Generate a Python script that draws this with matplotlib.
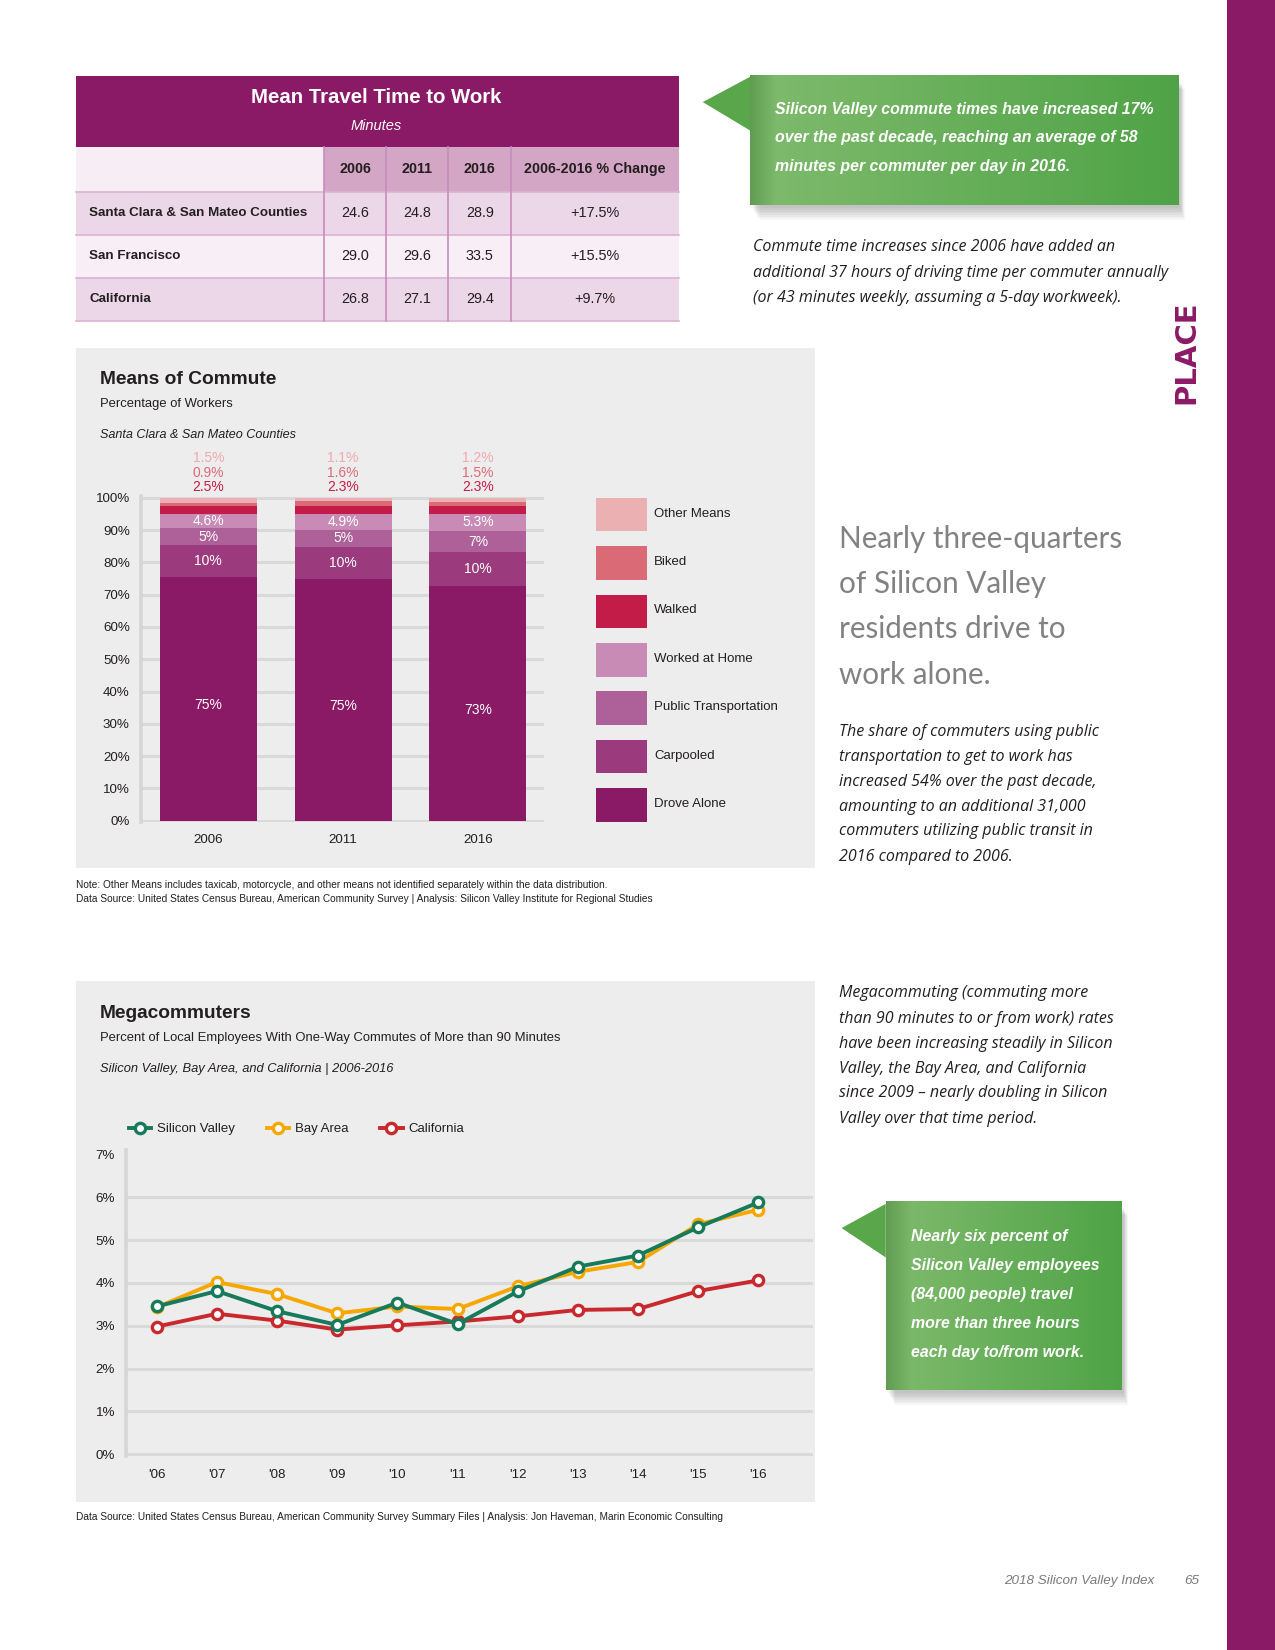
import matplotlib
matplotlib.use('Agg')
import matplotlib.pyplot as plt
import numpy as np
from matplotlib.patches import Rectangle, Polygon
from matplotlib.colors import LinearSegmentedColormap

# ---------------- DATA ----------------
table_title = "Mean Travel Time to Work"
table_columns = ["2006", "2011", "2016", "2006-2016 % Change"]
table_regions = ["Santa Clara & San Mateo Counties", "San Francisco", "California"]
travel_2006 = [24.6, 29.0, 26.8]
travel_2011 = [24.8, 29.6, 27.1]
travel_2016 = [28.9, 33.5, 29.4]
travel_change = ["+17.5%", "+15.5%", "+9.7%"]

commute_years = ["2006", "2011", "2016"]
commute_modes = ["Drove Alone", "Carpooled", "Public Transportation",
                 "Worked at Home", "Walked", "Biked", "Other Means"]
drove_alone = [75.4, 75.0, 72.8]
carpooled = [10.1, 9.9, 10.3]
public_transport = [5.0, 5.2, 6.6]
worked_home = [4.6, 4.9, 5.3]
walked = [2.5, 2.3, 2.3]
biked = [0.9, 1.6, 1.5]
other_means = [1.5, 1.1, 1.2]
commute_ticks = [0, 10, 20, 30, 40, 50, 60, 70, 80, 90, 100]

mega_years = [2006, 2007, 2008, 2009, 2010, 2011, 2012, 2013, 2014, 2015, 2016]
mega_labels = ["'06", "'07", "'08", "'09", "'10", "'11", "'12", "'13", "'14", "'15", "'16"]
silicon_valley = [3.45, 3.81, 3.34, 3.02, 3.54, 3.04, 3.80, 4.38, 4.64, 5.30, 5.88]
bay_area = [3.43, 4.02, 3.74, 3.29, 3.45, 3.39, 3.92, 4.26, 4.49, 5.37, 5.71]
california = [2.98, 3.28, 3.12, 2.91, 3.01, 3.10, 3.22, 3.37, 3.39, 3.81, 4.06]
mega_ticks = [0, 1, 2, 3, 4, 5, 6, 7]

# ---------------- FONTS ----------------
COND = ['Liberation Sans', 'DejaVu Sans']
ITAL = ['Open Sans', 'DejaVu Sans']
LIGHT = ['Lato', 'Liberation Sans', 'DejaVu Sans']
plt.rcParams['font.family'] = COND

PURPLE = '#8b1a66'
PANEL = '#ededed'
DARK = '#231f20'

fig = plt.figure(figsize=(12.75, 16.5), dpi=100)
W, H = 1212.0, 1568.0
bg = fig.add_axes([0, 0, 1, 1])
bg.set_xlim(0, W); bg.set_ylim(H, 0); bg.axis('off')


def rect(x0, y0, x1, y1, **kw):
    bg.add_patch(Rectangle((x0, y0), x1 - x0, y1 - y0, **kw))


def ax_rect(x0, y0, x1, y1):
    return [x0 / W, 1 - y1 / H, (x1 - x0) / W, (y1 - y0) / H]


def T(x, y, s, size, **kw):
    kw.setdefault('va', 'center')
    kw.setdefault('color', DARK)
    bg.text(x, y, s, fontsize=size, **kw)


# right purple strip
rect(1166, 0, W, H, color=PURPLE, lw=0)
T(1128, 335, 'PLACE', 21, rotation=90, ha='center', color=PURPLE,
  fontweight='bold', family=['DejaVu Sans'])

# ---------------- TABLE ----------------
rect(72, 72, 645, 140, color=PURPLE, lw=0)
T(358, 93, table_title, 14.7, ha='center', color='white', fontweight='bold')
T(358, 120, 'Minutes', 10.5, ha='center', color='white', style='italic')
col_edges = [72, 308, 367, 426, 486, 645]
row_edges = [140, 182, 223, 264, 305]
rect(72, 140, 308, 182, color='#f7edf4', lw=0)
rect(308, 140, 645, 182, color='#d4a6c6', lw=0)
row_colors = ['#ecd7e8', '#f8eef5', '#ecd7e8']
for i, c in enumerate(row_colors):
    rect(72, row_edges[i + 1], 645, row_edges[i + 2], color=c, lw=0)
for y in row_edges[1:]:
    bg.plot([72, 645], [y, y], color='#dcb2d3', lw=1.2)
for x in col_edges[1:-1]:
    bg.plot([x, x], [140, 305], color='#c98cbc', lw=1.2)
col_centers = [(col_edges[i] + col_edges[i + 1]) / 2 for i in range(1, 5)]
for cx, lab in zip(col_centers, table_columns):
    T(cx, 161, lab, 10.3, ha='center', fontweight='bold')
for i, reg in enumerate(table_regions):
    yc = (row_edges[i + 1] + row_edges[i + 2]) / 2
    T(85, yc, reg, 9.6, ha='left', fontweight='bold')
    vals = ["%.1f" % travel_2006[i], "%.1f" % travel_2011[i], "%.1f" % travel_2016[i], travel_change[i]]
    for cx, v in zip(col_centers, vals):
        T(cx, yc, v, 10.4, ha='center')

# ---------------- CALLOUTS ----------------
green_cm = LinearSegmentedColormap.from_list('g', ['#80bb6e', '#4fa346'])


def callout(x0, y0, x1, y1, tri):
    for k in range(8):
        rect(x0 + 2 + k, y0 + 6 + k, x1 + 2 + k * 0.6, y1 + 3 + k * 1.6,
             color='black', alpha=0.03, lw=0, zorder=1)
    grad = np.linspace(0, 1, 256).reshape(1, -1)
    bg.imshow(grad, extent=(x0, x1, y1, y0), aspect='auto', cmap=green_cm,
              zorder=2, interpolation='bilinear')
    sh = np.zeros((1, 64, 4))
    sh[..., 1] = 0.25
    sh[..., 3] = np.linspace(0.25, 0, 64)
    bg.imshow(sh, extent=(x0, x0 + 24, y1, y0), aspect='auto', zorder=3,
              interpolation='bilinear')
    bg.add_patch(Polygon(tri, closed=True, color='#5aa74b', lw=0, zorder=3))
    bg.set_xlim(0, W); bg.set_ylim(H, 0)


callout(713, 72, 1120, 195, [(668, 97), (713, 73), (713, 124)])
for y, s in zip([104, 131, 158], ["Silicon Valley commute times have increased 17%",
                                   "over the past decade, reaching an average of 58",
                                   "minutes per commuter per day in 2016."]):
    T(737, y, s, 11.4, color='white', fontweight='bold', style='italic', zorder=5)

callout(842, 1142, 1066, 1321, [(800, 1167), (842, 1144), (842, 1195)])
for y, s in zip([1175, 1203, 1230, 1258, 1285], ["Nearly six percent of",
                                                  "Silicon Valley employees",
                                                  "(84,000 people) travel",
                                                  "more than three hours",
                                                  "each day to/from work."]):
    T(866, y, s, 11.4, color='white', fontweight='bold', style='italic', zorder=5)

# ---------------- PARAGRAPHS ----------------
for y, s in zip([235, 259, 283], ["Commute time increases since 2006 have added an",
                                   "additional 37 hours of driving time per commuter annually",
                                   "(or 43 minutes weekly, assuming a 5-day workweek)."]):
    T(716, y, s, 11.5, style='italic', family=ITAL)

for y, s in zip([512, 555, 598, 641], ["Nearly three-quarters", "of Silicon Valley",
                                        "residents drive to", "work alone."]):
    T(798, y, s, 21.3, color='#828282', family=LIGHT, fontweight='normal')

for y, s in zip([696, 719, 743, 767, 790, 814],
                ["The share of commuters using public",
                 "transportation to get to work has",
                 "increased 54% over the past decade,",
                 "amounting to an additional 31,000",
                 "commuters utilizing public transit in",
                 "2016 compared to 2006."]):
    T(798, y, s, 11.5, style='italic', family=ITAL)

for y, s in zip([944, 968, 992, 1016, 1039, 1063],
                ["Megacommuting (commuting more",
                 "than 90 minutes to or from work) rates",
                 "have been increasing steadily in Silicon",
                 "Valley, the Bay Area, and California",
                 "since 2009 \u2013 nearly doubling in Silicon",
                 "Valley over that time period."]):
    T(798, y, s, 11.5, style='italic', family=ITAL)

# ---------------- MEANS OF COMMUTE ----------------
rect(72, 331, 775, 825, color=PANEL, lw=0)
T(95, 361, 'Means of Commute', 13.8, fontweight='bold')
T(95, 384, 'Percentage of Workers', 9.4)
T(95, 413, 'Santa Clara & San Mateo Counties', 9.1, style='italic')

ax1 = fig.add_axes(ax_rect(134, 471.5, 517, 780.9))
ax1.set_facecolor('none')
ax1.set_xlim(-0.5, 2.49)
ax1.set_ylim(-0.3, 100.5)
x = np.arange(len(commute_years))
series = [drove_alone, carpooled, public_transport, worked_home, walked, biked, other_means]
colors = ['#8b1a66', '#9b3b7d', '#ae6198', '#c88bb6', '#c41c48', '#d96a76', '#ebb0b2']
bottom = np.zeros(len(x))
bw = 92 / 128
for vals, col in zip(series, colors):
    ax1.bar(x, vals, bw, bottom=bottom, color=col, zorder=3, lw=0)
    bottom += np.array(vals)
cum = np.zeros(len(x))
for k, vals in enumerate(series[:4]):
    for i in range(len(x)):
        v = vals[i]
        lab = ("%.0f%%" % v) if k < 3 else ("%.1f%%" % v)
        ax1.text(x[i], cum[i] + v / 2 + (-2 if k == 0 else 0), lab, ha='center', va='center',
                 color='white', fontsize=10, zorder=4)
    cum += np.array(vals)
top_specs = [(walked, '#c41c48', 103.2), (biked, '#dd6a7a', 107.7), (other_means, '#f0aab0', 112.2)]
for vals, col, yy in top_specs:
    for i in range(len(x)):
        ax1.text(x[i], yy, "%.1f%%" % vals[i], ha='center', va='center', color=col,
                 fontsize=10, clip_on=False)
ax1.set_yticks(commute_ticks)
ax1.set_yticklabels(["%d%%" % t for t in commute_ticks])
ax1.set_xticks(x)
ax1.set_xticklabels(commute_years)
ax1.tick_params(length=0, labelsize=9.6, colors=DARK)
ax1.tick_params(axis='y', pad=8)
ax1.tick_params(axis='x', pad=9)
ax1.yaxis.grid(True, color='#d9d9d9', lw=2.2, zorder=0)
ax1.set_axisbelow(True)
for s in ['top', 'right', 'bottom']:
    ax1.spines[s].set_visible(False)
ax1.spines['left'].set_color('#d6d6d6')
ax1.spines['left'].set_linewidth(2.6)

leg_y = [473, 519, 565, 611, 657, 703, 749]
for yy, name, col in zip(leg_y, commute_modes[::-1], colors[::-1]):
    rect(567, yy, 615, yy + 32, color=col, lw=0)
    T(622, yy + 15, name, 9.5)

T(72, 841, 'Note: Other Means includes taxicab, motorcycle, and other means not identified separately within the data distribution.', 7.3)
T(72, 854, 'Data Source: United States Census Bureau, American Community Survey | Analysis: Silicon Valley Institute for Regional Studies', 7.3)

# ---------------- MEGACOMMUTERS ----------------
rect(72, 932, 775, 1427, color=PANEL, lw=0)
T(95, 963, 'Megacommuters', 13.8, fontweight='bold')
T(95, 986, 'Percent of Local Employees With One-Way Commutes of More than 90 Minutes', 9.4)
T(95, 1016, 'Silicon Valley, Bay Area, and California | 2006-2016', 9.3, style='italic')

ax2 = fig.add_axes(ax_rect(120, 1093, 773, 1384))
ax2.set_facecolor('none')
ax2.set_xlim(2005.493, 2016.91)
ax2.set_ylim(-0.05, 7.1)
line_specs = [(california, '#c9292d', 'California'), (bay_area, '#f6a800', 'Bay Area'),
              (silicon_valley, '#167a5b', 'Silicon Valley')]
handles = {}
for z, (vals, col, name) in enumerate(line_specs):
    ln, = ax2.plot(mega_years, vals, color=col, lw=2.8, marker='o', ms=7.4,
                   mfc='white', mec=col, mew=2.4, zorder=3 + z, label=name)
    handles[name] = ln
ax2.set_yticks(mega_ticks)
ax2.set_yticklabels(["%d%%" % t for t in mega_ticks])
ax2.set_xticks(mega_years)
ax2.set_xticklabels(mega_labels)
ax2.tick_params(length=0, labelsize=9.6, colors=DARK)
ax2.tick_params(axis='y', pad=8)
ax2.tick_params(axis='x', pad=9)
ax2.yaxis.grid(True, color='#d9d9d9', lw=2.2, zorder=0)
ax2.get_ygridlines()[-1].set_visible(False)
ax2.set_axisbelow(True)
for s in ['top', 'right', 'bottom']:
    ax2.spines[s].set_visible(False)
ax2.spines['left'].set_color('#d6d6d6')
ax2.spines['left'].set_linewidth(2.6)

order = ['Silicon Valley', 'Bay Area', 'California']
fig.legend([handles[n] for n in order], order, loc='center left',
           bbox_to_anchor=(111 / W, 1 - 1073 / H), ncol=3, frameon=False,
           handlelength=1.7, handletextpad=0.45, columnspacing=2.4,
           fontsize=9.5, labelcolor=DARK)

T(72, 1442, 'Data Source: United States Census Bureau, American Community Survey Summary Files | Analysis: Jon Haveman, Marin Economic Consulting', 7.3)

# footer
T(1097, 1502, '2018 Silicon Valley Index', 9.7, ha='right', style='italic', color='#7a7a7a')
T(1133, 1502, '65', 9.7, ha='center', style='italic', color='#7a7a7a')

fig.savefig('out.png', dpi=100)
